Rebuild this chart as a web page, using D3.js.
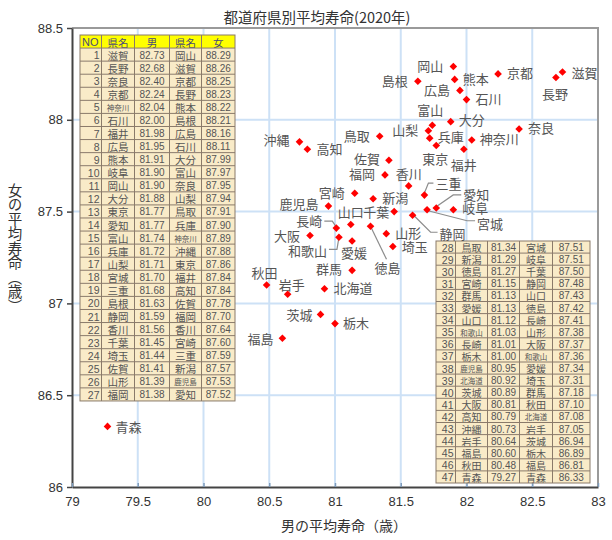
<!DOCTYPE html>
<html><head><meta charset="utf-8">
<script src="https://cdn.jsdelivr.net/npm/d3@7"></script>
<style>body{margin:0;background:#fff}svg{display:block}</style>
</head><body><svg id="c" width="612" height="540"></svg>
<script>
// ---- data ----
const maleNames = ["滋賀","長野","奈良","京都","神奈川","石川","福井","広島","熊本","岐阜","岡山","大分","東京","愛知","富山","兵庫","山梨","宮城","三重","島根","静岡","香川","千葉","埼玉","佐賀","山形","福岡","鳥取","新潟","徳島","宮崎","群馬","愛媛","山口","和歌山","長崎","栃木","鹿児島","北海道","茨城","大阪","高知","沖縄","岩手","福島","秋田","青森"];
const maleValues = [82.73,82.68,82.40,82.24,82.04,82.00,81.98,81.95,81.91,81.90,81.90,81.88,81.77,81.77,81.74,81.72,81.71,81.70,81.68,81.63,81.59,81.56,81.45,81.44,81.41,81.39,81.38,81.34,81.29,81.27,81.15,81.13,81.13,81.12,81.03,81.01,81.00,80.95,80.92,80.89,80.81,80.79,80.73,80.64,80.60,80.48,79.27];
const femaleNames = ["岡山","滋賀","京都","長野","熊本","島根","広島","石川","大分","富山","奈良","山梨","鳥取","兵庫","神奈川","沖縄","東京","福井","高知","佐賀","福岡","香川","宮崎","三重","新潟","鹿児島","愛知","宮城","岐阜","千葉","静岡","山口","徳島","長崎","山形","大阪","和歌山","愛媛","埼玉","群馬","秋田","北海道","岩手","茨城","栃木","福島","青森"];
const femaleValues = [88.29,88.26,88.25,88.23,88.22,88.21,88.16,88.11,87.99,87.97,87.95,87.94,87.91,87.90,87.89,87.88,87.86,87.84,87.84,87.78,87.70,87.64,87.60,87.59,87.57,87.53,87.52,87.51,87.51,87.50,87.48,87.43,87.42,87.41,87.38,87.37,87.36,87.34,87.31,87.18,87.10,87.08,87.05,86.94,86.89,86.81,86.33];
const xTicks = [79,79.5,80,80.5,81,81.5,82,82.5,83];
const yTicks = [86,86.5,87,87.5,88,88.5];
const tableHeader = ["NO","県名","男","県名","女"];
const titleText = "都道府県別平均寿命(2020年)";
const xTitle = "男の平均寿命（歳）";
const yTitle = "女の平均寿命（歳）";

// ---- label placement (layout only) ----
const labelPos = {
 "岡山":["end",-10,-1],"滋賀":["start",9,0],"長野":["middle",-1,16],"京都":["start",9,-1],
 "熊本":["start",8,-1],"島根":["end",-10,-1],"広島":["end",-10,-1],"石川":["start",9,-1],
 "大分":["start",8,-2],"富山":["middle",-2,-16],"奈良":["start",9,-1],"山梨":["end",-10,-1],
 "鳥取":["end",-10,-1],"兵庫":["start",8,-2],"神奈川":["start",8,-1],"沖縄":["end",-10,-2],
 "東京":["middle",-1,13],"福井":["middle",0,15],"高知":["start",9,-1],"佐賀":["end",-9,-2],
 "福岡":["end",-10,-1],"香川":["middle",0,-12],"宮崎":["end",-10,-1],"三重":["start",11,-12],
 "新潟":["start",9,-1],"鹿児島":["end",-10,-3],"愛知":["start",27,-13],"宮城":["start",50,14],
 "岐阜":["start",9,-2],"千葉":["end",-5,0],"静岡":["start",27,18],"山口":["middle",0,-13],
 "徳島":["middle",17,41],"長崎":["end",-14,-8],"山形":["start",9,-1],"大阪":["end",-10,0],
 "和歌山":["end",-12,13],"愛媛":["middle",2,12],"埼玉":["start",9,0],"群馬":["end",-10,-2],
 "秋田":["middle",-2,-13],"北海道":["start",9,-1],"岩手":["middle",4,-10],"茨城":["end",-8,0],
 "栃木":["start",8,-1],"福島":["end",-9,0],"青森":["start",8,0]
};
const leaders = {
 "三重":[[0,-2],[4,-12],[9,-12]],
 "愛知":[[1,-2],[17,-13],[25,-13]],
 "宮城":[[1,1],[40,11],[48,11]],
 "静岡":[[0,-1],[18,17],[25,17]],
 "徳島":[[0,0],[16,33]],
 "長崎":[[0,-1],[-4,-7],[-12,-7]],
 "和歌山":[[0,0],[-2,12],[-10,12]]
};

const svg = d3.select("#c");
const x = d3.scaleLinear().domain([79,83]).range([72,598]);
const y = d3.scaleLinear().domain([86,88.5]).range([487,28]);
const JP = "'Noto Sans CJK JP','Noto Sans',sans-serif";
const NUM = "'Liberation Sans',Arial,sans-serif";

// title
svg.append("text").attr("x",317).attr("y",16).attr("text-anchor","middle")
  .attr("dominant-baseline","central").attr("font-family",JP).attr("font-size",14.5)
  .attr("fill","#333").text(titleText);

// plot background
svg.append("rect").attr("x",72).attr("y",28).attr("width",526).attr("height",459).attr("fill","#fff");

// grid
const g = svg.append("g");
g.selectAll(".vg").data(xTicks.slice(1,-1)).join("line")
  .attr("x1",d=>x(d)).attr("x2",d=>x(d)).attr("y1",y(88.5)).attr("y2",y(86))
  .attr("stroke","#cde1f6").attr("stroke-width",2);
g.selectAll(".hg").data(yTicks.slice(1,-1)).join("line")
  .attr("y1",d=>y(d)).attr("y2",d=>y(d)).attr("x1",x(79)).attr("x2",x(83))
  .attr("stroke","#cde1f6").attr("stroke-width",2);

// frame top/right
svg.append("path").attr("d",`M${x(79)},${y(88.5)}H${x(83)}V${y(86)}`)
  .attr("fill","none").attr("stroke","#9a9a9a").attr("stroke-width",2);

// axes
const ya = svg.append("g").attr("transform",`translate(${x(79)},0)`)
  .call(d3.axisLeft(y).tickValues(yTicks).tickSize(5).tickSizeOuter(0).tickFormat(d=>String(d)));
ya.select(".domain").attr("stroke","#444").attr("stroke-width",2);
ya.selectAll(".tick line").attr("stroke","#444").attr("stroke-width",1.5);
ya.selectAll(".tick text").attr("font-family",NUM).attr("font-size",13).attr("fill","#333").attr("x",-9);

const xa = svg.append("g").attr("transform",`translate(0,${y(86)})`)
  .call(d3.axisBottom(x).tickValues(xTicks).tickSize(-4).tickSizeOuter(0).tickFormat(d=>String(d)));
xa.select(".domain").attr("stroke","#444").attr("stroke-width",2);
xa.selectAll(".tick line").attr("stroke","#7f9cbc").attr("stroke-width",1.5);
xa.selectAll(".tick text").attr("font-family",NUM).attr("font-size",13).attr("fill","#333").attr("y",10);

// axis titles
svg.append("text").attr("x",344).attr("y",525).attr("text-anchor","middle")
  .attr("dominant-baseline","central").attr("font-family",JP).attr("font-size",14)
  .attr("fill","#333").text(xTitle);
svg.append("text").attr("transform","translate(15,248)").attr("text-anchor","middle")
  .style("writing-mode","vertical-rl").attr("font-family",JP).attr("font-size",14.5)
  .attr("fill","#333").text(yTitle);

// tables
function drawTable(x0,y0,widths,rh,rows,header,nameFs){
  const t = svg.append("g");
  let yy = y0;
  const all = header ? [{h:true,cells:header}].concat(rows.map(r=>({h:false,cells:r}))) : rows.map(r=>({h:false,cells:r}));
  const total = d3.sum(widths);
  all.forEach((row)=>{
    let xx = x0;
    t.append("rect").attr("x",x0).attr("y",yy).attr("width",total).attr("height",rh)
      .attr("fill",row.h?"#ffff00":"#f9ebc8");
    row.cells.forEach((c,ci)=>{
      const w = widths[ci];
      const s = String(c);
      const isName = (ci===1||ci===3);
      let fs, fam, anchor="middle", tx = xx+w/2;
      if(row.h){ fam=JP; fs=nameFs; if(ci===0){anchor="start"; tx=xx+2; fam=NUM; fs=11;} }
      else if(ci===0){ fam=NUM; fs=10.5; anchor="end"; tx=xx+w-2; }
      else if(isName){ fam=JP; fs = s.length>2?7.5:nameFs; }
      else { fam=NUM; fs=10; }
      t.append("text").attr("x",tx).attr("y",yy+rh/2+0.5).attr("text-anchor",anchor)
        .attr("dominant-baseline","central").attr("font-family",fam).attr("font-size",fs)
        .attr("fill",row.h?"#4a4a7a":"#555").text(s);
      xx += w;
    });
    yy += rh;
  });
  const H = rh*all.length;
  let xx = x0;
  const bc = "#8a7a6a";
  t.append("rect").attr("x",x0).attr("y",y0).attr("width",total).attr("height",H)
    .attr("fill","none").attr("stroke",bc).attr("stroke-width",1);
  widths.slice(0,-1).forEach(w=>{ xx+=w;
    t.append("line").attr("x1",xx).attr("x2",xx).attr("y1",y0).attr("y2",y0+H).attr("stroke",bc).attr("stroke-width",1);});
  for(let i=1;i<all.length;i++){
    t.append("line").attr("x1",x0).attr("x2",x0+total).attr("y1",y0+i*rh).attr("y2",y0+i*rh).attr("stroke",bc).attr("stroke-width",1);
  }
}
const rankRows = maleNames.map((n,i)=>[i+1,n,maleValues[i].toFixed(2),femaleNames[i],femaleValues[i].toFixed(2)]);
drawTable(80,35,[21.5,33,35,32,33.5],13.07,rankRows.slice(0,27),tableHeader,10.5);
drawTable(436,241,[19.5,32,32,33,37.5],12.1,rankRows.slice(27),null,10);

// points
const fMap = new Map(femaleNames.map((n,i)=>[n,femaleValues[i]]));
const pts = maleNames.map((n,i)=>({name:n,m:maleValues[i],f:fMap.get(n)}));

const lg = svg.append("g");
pts.forEach(p=>{
  const px=x(p.m), py=y(p.f);
  if(leaders[p.name]){
    lg.append("path").attr("d",d3.line()(leaders[p.name].map(([a,b])=>[px+a,py+b])))
      .attr("fill","none").attr("stroke","#8c8c8c").attr("stroke-width",1.2);
  }
});
svg.append("g").selectAll("path").data(pts).join("path")
  .attr("d",d=>{const px=x(d.m),py=y(d.f),r=3.8;return `M${px},${py-r}L${px+r},${py}L${px},${py+r}L${px-r},${py}Z`;})
  .attr("fill","#ff0000");
svg.append("g").selectAll("text").data(pts).join("text")
  .attr("x",d=>x(d.m)+labelPos[d.name][1]).attr("y",d=>y(d.f)+labelPos[d.name][2])
  .attr("text-anchor",d=>labelPos[d.name][0]).attr("dominant-baseline","central")
  .attr("font-family",JP).attr("font-size",13).attr("fill","#555").text(d=>d.name);
</script></body></html>
